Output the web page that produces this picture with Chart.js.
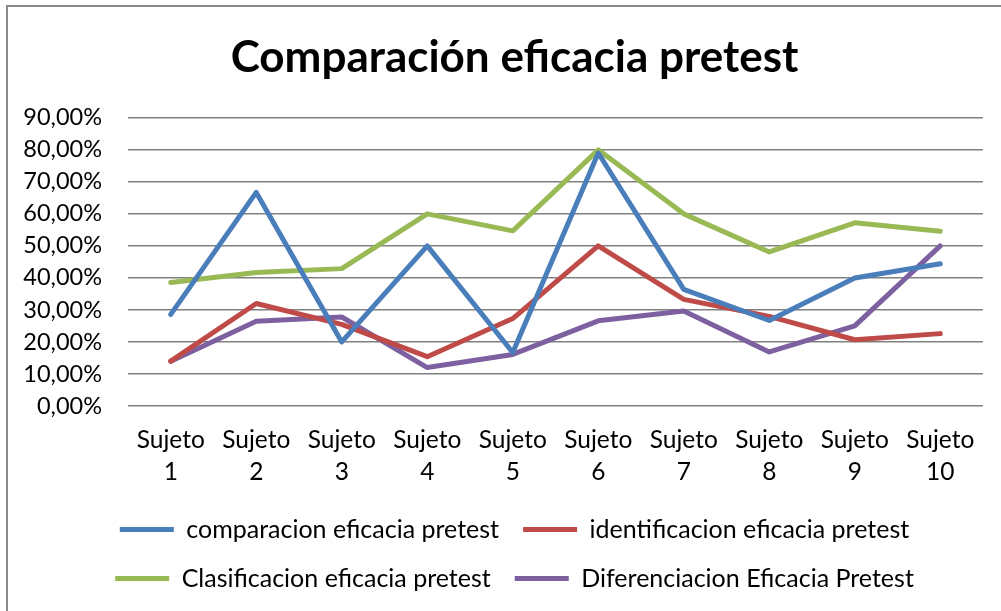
<!DOCTYPE html>
<html>
<head>
<meta charset="utf-8">
<script src="https://cdn.jsdelivr.net/npm/chart.js@4/dist/chart.umd.min.js"></script>
<style>
  html, body { margin: 0; padding: 0; background: #ffffff; overflow: hidden; }
  #wrap { position: absolute; left: 0; top: 0; width: 1020px; height: 611px; }
</style>
</head>
<body>
<div id="wrap"><canvas id="c" width="1020" height="611"></canvas></div>
<script>
const titleText = 'Comparación eficacia pretest';
const categories = [['Sujeto','1'],['Sujeto','2'],['Sujeto','3'],['Sujeto','4'],['Sujeto','5'],['Sujeto','6'],['Sujeto','7'],['Sujeto','8'],['Sujeto','9'],['Sujeto','10']];
const seriesNames = ['comparacion eficacia pretest','identificacion eficacia pretest','Clasificacion eficacia pretest','Diferenciacion Eficacia Pretest'];
const comparacion = [28.6, 66.7, 20.0, 50.0, 16.7, 79.0, 36.4, 26.7, 40.0, 44.4];
const identificacion = [14.0, 32.0, 25.5, 15.4, 27.3, 50.0, 33.3, 28.0, 20.7, 22.6];
const clasificacion = [38.6, 41.7, 42.9, 60.0, 54.7, 80.0, 60.0, 48.1, 57.2, 54.6];
const diferenciacion = [14.0, 26.5, 27.8, 12.0, 16.1, 26.6, 29.7, 16.9, 25.0, 50.0];
const yTicks = [0, 10, 20, 30, 40, 50, 60, 70, 80, 90];
const colors = ['#4A7EBB', '#BE4B48', '#98B954', '#7D60A0'];

const FONT = 'Lato, "Open Sans", sans-serif';

const frame = {
  id: 'frame',
  beforeDraw(chart) {
    const ctx = chart.ctx;
    ctx.save();
    ctx.fillStyle = '#ffffff';
    ctx.fillRect(0, 0, chart.width, chart.height);
    ctx.fillStyle = '#898989';
    ctx.fillRect(6, 5, 2, chart.height);
    ctx.fillRect(6, 5, chart.width, 2);
    ctx.restore();
  }
};

function ds(label, data, color) {
  return {
    label, data,
    borderColor: color, backgroundColor: color,
    borderWidth: 5, pointRadius: 0, pointHoverRadius: 0,
    tension: 0, borderJoinStyle: 'round', borderCapStyle: 'round', fill: false
  };
}

new Chart(document.getElementById('c'), {
  type: 'line',
  data: {
    labels: categories,
    datasets: [
      ds(seriesNames[0], comparacion, colors[0]),
      ds(seriesNames[1], identificacion, colors[1]),
      ds(seriesNames[2], clasificacion, colors[2]),
      ds(seriesNames[3], diferenciacion, colors[3])
    ]
  },
  options: {
    responsive: false,
    animation: false,
    devicePixelRatio: 1,
    layout: { padding: { left: 46, right: 37, top: 0, bottom: 10 } },
    plugins: {
      tooltip: { enabled: false },
      title: {
        display: true, text: titleText, color: '#000',
        font: { family: FONT, size: 44, weight: 'bold', lineHeight: 1.2 },
        padding: { top: 31, bottom: 34 }
      },
      legend: {
        position: 'bottom',
        labels: {
          color: '#000',
          font: { family: FONT, size: 25 },
          usePointStyle: true, pointStyle: 'line', pointStyleWidth: 54,
          boxHeight: 25, padding: 24
        }
      }
    },
    scales: {
      x: {
        offset: true,
        grid: { display: false, drawTicks: false },
        border: { display: false },
        ticks: { color: '#000', font: { family: FONT, size: 24.5, lineHeight: 1.3 }, padding: 18, maxRotation: 0, autoSkip: false },
        afterFit(s) { s.height = 87; }
      },
      y: {
        min: 0, max: 90,
        afterBuildTicks(s) { s.ticks = yTicks.map(v => ({ value: v })); },
        grid: { color: '#808080', lineWidth: 1.6, drawTicks: false },
        border: { display: false },
        ticks: {
          color: '#000', font: { family: FONT, size: 23.5 }, padding: 26,
          callback: v => v.toFixed(2).replace('.', ',') + '%'
        },
        afterFit(s) { s.width = 82; s._computeLabelArea = () => undefined; }
      }
    }
  },
  plugins: [frame]
});
</script>
</body>
</html>
